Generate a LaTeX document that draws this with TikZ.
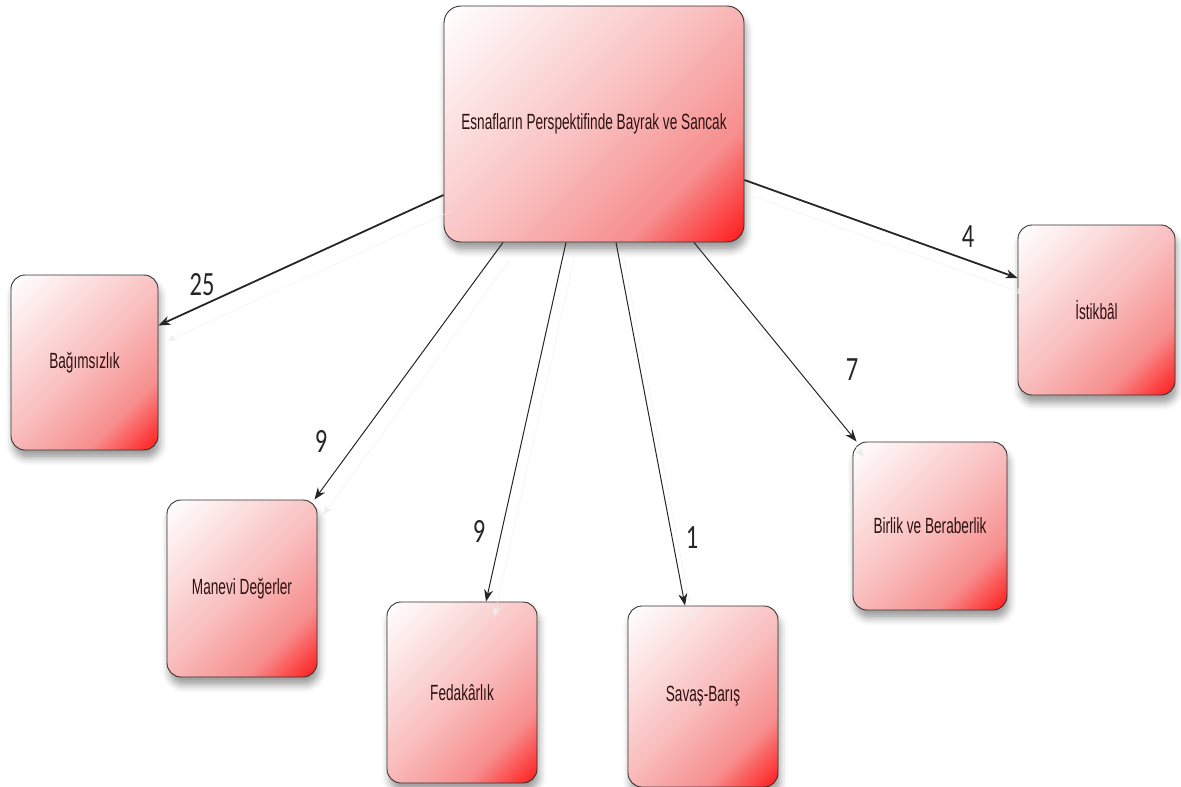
\documentclass[tikz,border=0pt]{standalone}
\usepackage{fontspec}
\setmainfont{Liberation Sans}
\newfontfamily\boxfont[FakeStretch=0.62]{Liberation Sans}
\newfontfamily\numfont[FakeStretch=0.72]{Carlito}
\usetikzlibrary{arrows.meta,shadows.blur}
\definecolor{bxA}{RGB}{252,224,224}
\definecolor{bxB}{RGB}{249,190,190}
\definecolor{bxC}{RGB}{247,142,142}
\definecolor{bxD}{RGB}{255,20,20}
\definecolor{txt}{RGB}{45,18,18}
\pgfdeclarehorizontalshading{boxshade}{100bp}{color(0bp)=(white); color(15bp)=(white); color(32bp)=(bxA); color(50bp)=(bxB); color(70bp)=(bxC); color(86bp)=(bxD); color(100bp)=(bxD)}
\tikzset{
  cbox/.style={draw=black!80, line width=0.9pt, rounded corners=14pt,
    shading=boxshade, shading angle=-45, inner sep=0pt, align=center,
    font=\boxfont\fontsize{22}{26}\selectfont, text=txt,
    blur shadow={shadow xshift=2pt, shadow yshift=-8pt, shadow blur radius=7pt, shadow opacity=38}},
  thinarrow/.style={-{Stealth[length=12pt,width=9pt]}, line width=1pt, draw=black!85,
    preaction={draw=black!7, transform canvas={shift={(8pt,-16pt)}}}},
  thickarrow/.style={thinarrow, line width=1.8pt},
  numlbl/.style={font=\numfont\fontsize{34}{36}\selectfont, text=black!85, inner sep=0pt}
}
\begin{document}
\begin{tikzpicture}[x=1pt,y=-1pt]
\useasboundingbox (0,0) rectangle (1181,787);
\node[cbox, minimum width=300pt, minimum height=236pt, rounded corners=17pt] (main) at (594,124) {Esnafların Perspektifinde Bayrak ve Sancak};
\node[cbox, minimum width=147pt, minimum height=175pt] (bag) at (84.5,362.5) {Bağımsızlık};
\node[cbox, minimum width=157pt, minimum height=170pt] (ist) at (1096.5,310) {İstikbâl};
\node[cbox, minimum width=154pt, minimum height=168pt] (bir) at (930,526) {Birlik ve Beraberlik};
\node[cbox, minimum width=150pt, minimum height=177pt] (man) at (242,588.5) {Manevi Değerler};
\node[cbox, minimum width=150pt, minimum height=181pt] (fed) at (462,692.5) {Fedakârlık};
\node[cbox, minimum width=150pt, minimum height=181pt] (sav) at (703,696.5) {Savaş-Barış};

\draw[thickarrow] ([yshift=-71pt]main.west) -- ([yshift=37pt]bag.east);
\draw[thinarrow] ([xshift=-91pt]main.south) -- ([xshift=-3pt]man.north east);
\draw[thinarrow] ([xshift=-28pt]main.south) -- ([xshift=24pt]fed.north);
\draw[thinarrow] ([xshift=22pt]main.south) -- ([xshift=-18pt]sav.north);
\draw[thinarrow] ([xshift=100pt]main.south) -- ([xshift=4pt]bir.north west);
\draw[thickarrow] ([yshift=-56pt]main.east) -- ([yshift=32pt]ist.west);

\node[numlbl] (l25) at (202,285) {25};
\node[numlbl] (l9a) at (321,441) {9};
\node[numlbl] (l9b) at (479,531) {9};
\node[numlbl] (l1) at (692,538) {1};
\node[numlbl] (l7) at (852,370) {7};
\node[numlbl] (l4) at (968,237) {4};
\end{tikzpicture}
\end{document}
